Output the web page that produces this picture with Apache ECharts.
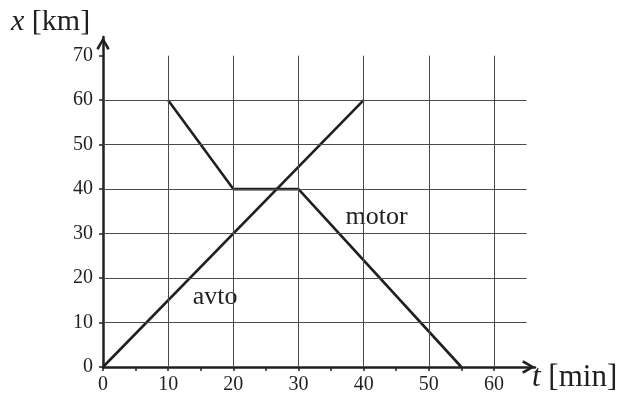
<!DOCTYPE html>
<html>
<head>
<meta charset="utf-8">
<script src="https://cdn.jsdelivr.net/npm/echarts@6/dist/echarts.min.js"></script>
<style>
  html, body { margin: 0; padding: 0; background: #fff; }
  #chart { width: 618px; height: 396px; }
</style>
</head>
<body>
<div id="chart"></div>
<script>
// Position–time graph of a car (avto) and a motorcycle (motor)
const avtoT = [0, 40];
const avtoX = [0, 60];
const motorT = [10, 20, 30, 55];
const motorX = [60, 40, 40, 0];

// Axis ticks and labels
const tLabels = [0, 10, 20, 30, 40, 50, 60];
const tTicks = [0, 5, 10, 15, 20, 25, 30, 35, 40, 45, 50, 55, 60];
const xLabels = [0, 10, 20, 30, 40, 50, 60, 70];

// Grid lines
const gridT = [10, 20, 30, 40, 50, 60];
const gridX = [10, 20, 30, 40, 50, 60];
const gridTEnd = 65;
const gridXEnd = 70;

// Curve labels
const curveNames = ['avto', 'motor'];
const curveLabelT = [17.2, 42.0];
const curveLabelX = [15.6, 33.6];

const FONT = '"Liberation Serif", "DejaVu Serif", serif';
const INK = '#231f20';
const chevron = 'path://M5,0 L10,8.5 L8.3,9.7 L5,3.6 L1.7,9.7 L0,8.5 Z';

const pairs = (ts, xs) => ts.map((t, i) => [t, xs[i]]);

const gridLines = [];
gridT.forEach(t => gridLines.push([{ coord: [t, 0] }, { coord: [t, gridXEnd] }]));
gridX.forEach(x => gridLines.push([{ coord: [0, x] }, { coord: [gridTEnd, x] }]));

const chart = echarts.init(document.getElementById('chart'), null, { renderer: 'canvas' });
chart.setOption({
  animation: false,
  backgroundColor: '#fff',
  grid: { left: 103, right: 83, top: 37, bottom: 29, containLabel: false },
  xAxis: {
    type: 'value', min: 0, max: 66.3, interval: 10,
    splitLine: { show: false },
    axisLine: {
      show: true, onZero: false,
      lineStyle: { color: INK, width: 2.5 },
      symbol: ['none', chevron], symbolSize: [14, 13], symbolOffset: [0, -6.5]
    },
    axisTick: { show: true, customValues: tTicks, length: 4, lineStyle: { color: INK, width: 1.5 } },
    axisLabel: {
      customValues: tLabels, margin: 8,
      color: INK, fontFamily: FONT, fontSize: 20
    }
  },
  yAxis: {
    type: 'value', min: 0, max: 74.2, interval: 10,
    splitLine: { show: false },
    axisLine: {
      show: true, onZero: false,
      lineStyle: { color: INK, width: 2.5 },
      symbol: ['none', chevron], symbolSize: [14, 13], symbolOffset: [0, -6.5]
    },
    axisTick: { show: true, customValues: xLabels, length: 4, lineStyle: { color: INK, width: 1.5 } },
    axisLabel: {
      customValues: xLabels, margin: 10,
      color: INK, fontFamily: FONT, fontSize: 20
    }
  },
  graphic: [
    {
      type: 'text', left: 11, top: 7,
      style: {
        text: '{i|x} [km]',
        fill: INK, fontFamily: FONT, fontSize: 30,
        rich: { i: { fontStyle: 'italic', fontFamily: FONT, fontSize: 30, fill: INK } }
      }
    },
    {
      type: 'text', left: 532, top: 362,
      style: {
        text: '{i|t} [min]',
        fill: INK, fontFamily: FONT, fontSize: 31,
        rich: { i: { fontStyle: 'italic', fontFamily: FONT, fontSize: 31, fill: INK } }
      }
    }
  ],
  series: [
    {
      type: 'line', data: [], z: 1, silent: true,
      markLine: {
        silent: true, symbol: 'none', animation: false,
        label: { show: false },
        lineStyle: { color: '#4a4a4a', width: 1, type: 'solid' },
        data: gridLines
      }
    },
    {
      name: 'avto', type: 'line', z: 3, symbol: 'none',
      lineStyle: { color: INK, width: 2.6 },
      data: pairs(avtoT, avtoX)
    },
    {
      name: 'motor', type: 'line', z: 3, symbol: 'none',
      lineStyle: { color: INK, width: 2.6 },
      data: pairs(motorT, motorX)
    },
    {
      type: 'scatter', z: 4, symbolSize: 0, silent: true,
      itemStyle: { opacity: 1 },
      label: {
        show: true, position: 'inside', formatter: '{b}', opacity: 1,
        color: INK, fontFamily: FONT, fontSize: 26
      },
      data: curveNames.map((n, i) => ({ name: n, value: [curveLabelT[i], curveLabelX[i]] }))
    }
  ]
});
</script>
</body>
</html>
